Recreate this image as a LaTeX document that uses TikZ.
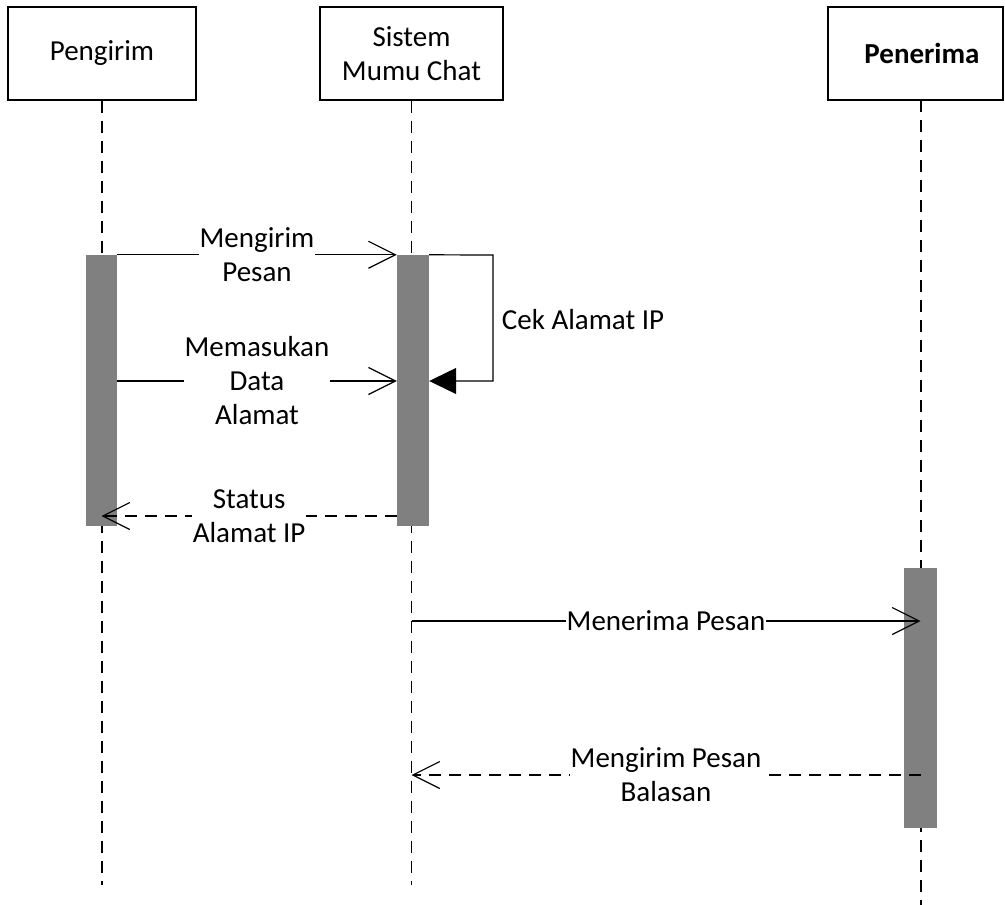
\documentclass[tikz,border=0pt]{standalone}
\usepackage{fontspec}
\setmainfont{Carlito}
\usetikzlibrary{arrows.meta}

\begin{document}
\begin{tikzpicture}[x=1pt,y=-1pt,
  txt/.style={font=\fontsize{29}{34}\selectfont, align=center},
  actor/.style={draw, line width=1.4pt, minimum height=93pt, inner sep=0pt, txt},
  lifeline/.style={line width=1.2pt, dash pattern=on 12pt off 8pt},
  actbar/.style={fill=black!50, draw=none, minimum width=31pt, inner sep=0pt},
  msg/.style={line width=1.2pt, -{Straight Barb[length=27pt, width=27pt, line width=1.2pt]}},
  reply/.style={msg, dash pattern=on 12pt off 8pt},
  selfmsg/.style={line width=1.2pt, -{Triangle[length=27pt, width=26pt]}},
  lbl/.style={txt, fill=white, inner sep=1pt}]

  \useasboundingbox (0,0) rectangle (1005,905);

  % participants
  \node[actor, minimum width=188pt] (pengirim) at (102,53.5) {Pengirim};
  \node[actor, minimum width=183pt] (sistem) at (411.5,53.5) {Sistem\\Mumu Chat};
  \node[actor, minimum width=175pt] (penerima) at (915.5,53.5) {};
  \node[txt, font=\fontsize{29}{34}\selectfont\bfseries] (penerimaText) at (922,53.5) {Penerima};

  % lifeline ends
  \coordinate (endP) at (102,885);
  \coordinate (endS) at (411.5,885);
  \coordinate (endR) at (921,905);
  \coordinate (topR) at (921,100);

  \draw[lifeline] (pengirim.south) -- (endP);
  \draw[lifeline] (sistem.south) -- (endS);
  \draw[lifeline] (topR) -- (endR);

  % activation bars
  \node[actbar, minimum height=271pt] (barP) at (101.5,390.5) {};
  \node[actbar, minimum width=32pt, minimum height=271pt] (barS) at (413,390.5) {};
  \node[actbar, minimum width=33pt, minimum height=260pt] (barR) at (920.5,698) {};

  % messages
  \draw[msg] (barP.north east) -- node[lbl] {Mengirim\\Pesan} (barS.north west);
  \coordinate (loopA) at (493,255);
  \coordinate (loopB) at (493,381);
  \draw[selfmsg] (barS.north east) -- (loopA) -- (loopB) -- (barS.east |- loopB);
  \node[txt] (cekLabel) at (583,320) {Cek Alamat IP};
  \draw[msg] (barP.east |- loopB) -- node[lbl] {Memasukan\\Data\\Alamat} (barS.west |- loopB);
  \draw[reply] (barS.west |- 0,516) -- node[lbl] {Status\\Alamat IP} (barP.center |- 0,516);
  \draw[msg] (sistem.south |- 0,621) -- node[lbl] {Menerima Pesan} (barR.center |- 0,621);
  \draw[reply] (barR.center |- 0,775) -- node[lbl] {Mengirim Pesan\\Balasan} (sistem.south |- 0,775);
\end{tikzpicture}
\end{document}
